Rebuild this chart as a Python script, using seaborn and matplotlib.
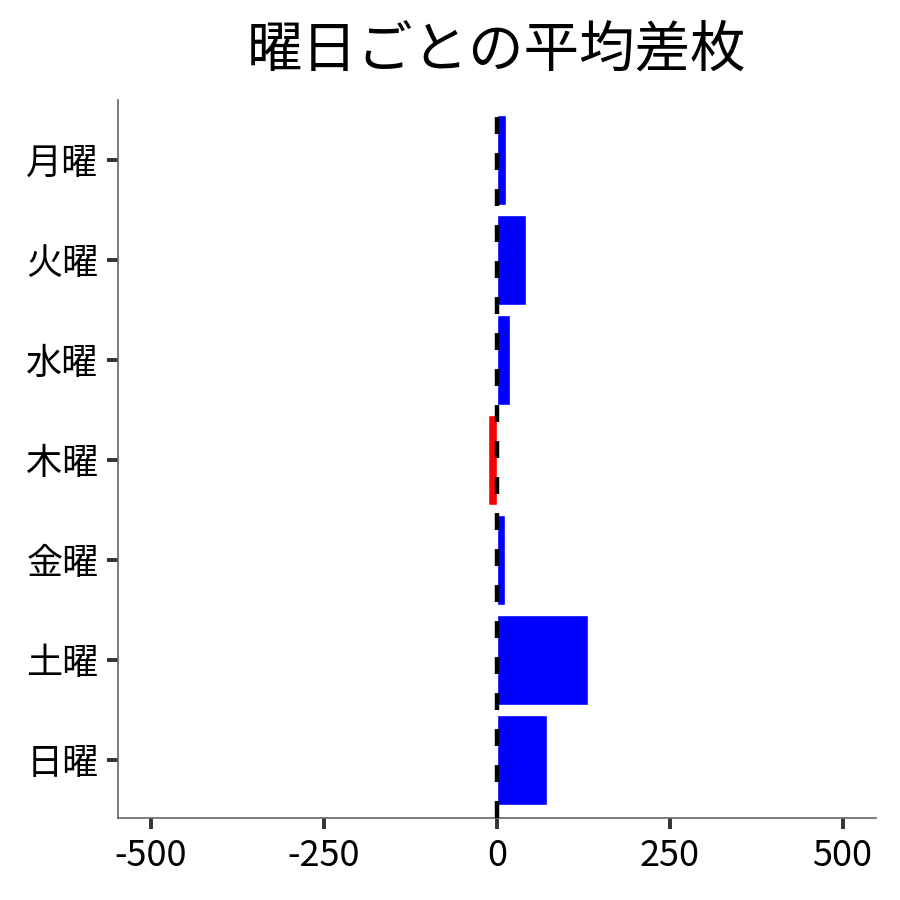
import matplotlib
matplotlib.use("Agg")
import matplotlib.pyplot as plt
import seaborn as sns
import pandas as pd

days = ["月曜", "火曜", "水曜", "木曜", "金曜", "土曜", "日曜"]
avg_diff = [13, 42, 19, -13, 12, 132, 72]
x_ticks = [-500, -250, 0, 250, 500]
title = "曜日ごとの平均差枚"

sns.set_theme(style="ticks")
plt.rcParams["font.family"] = ["Noto Sans CJK JP", "DejaVu Sans"]

df = pd.DataFrame({"day": days, "diff": avg_diff})
colors = {d: ("#0000ff" if v >= 0 else "#ff0000") for d, v in zip(days, avg_diff)}

fig = plt.figure(figsize=(9, 9), dpi=100)
ax = fig.add_axes([0.131, 0.091, 0.842, 0.798])

sns.barplot(data=df, y="day", x="diff", hue="day", palette=colors,
            order=days, orient="h", width=0.9, saturation=1, legend=False, ax=ax)

ax.axvline(0, color="black", lw=3.2, dashes=(3.8, 4.3), zorder=5)

ax.set_xlim(-548, 548)
ax.set_ylim(6.58, -0.6)
ax.set_xticks(x_ticks)
ax.set_xticklabels([str(t) for t in x_ticks])
ax.set_xlabel("")
ax.set_ylabel("")
ax.set_title(title, fontsize=40, pad=24, color="black")

for s in ["top", "right"]:
    ax.spines[s].set_visible(False)
for s in ["left", "bottom"]:
    ax.spines[s].set_color("#666666")
    ax.spines[s].set_linewidth(1.2)

ax.tick_params(axis="both", labelsize=26, length=8, width=2.8, color="#333333",
               labelcolor="black", pad=6)

fig.savefig("out.png", dpi=100)
